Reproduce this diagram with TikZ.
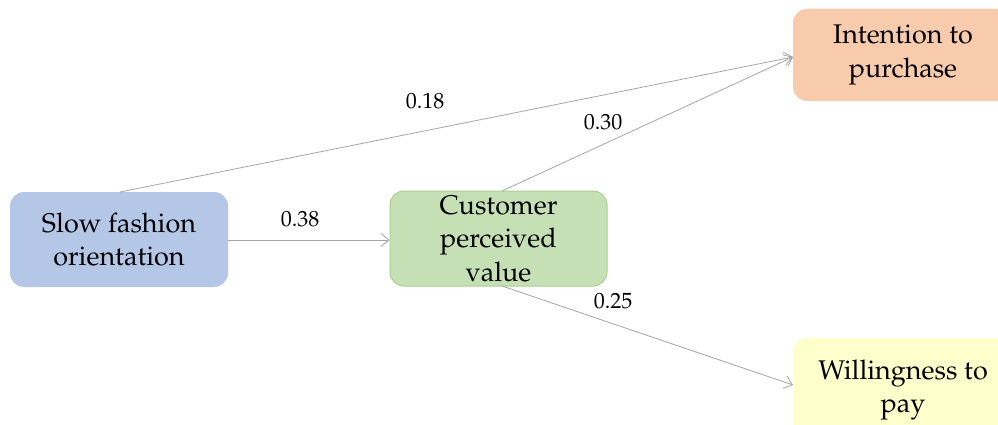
\documentclass[tikz,border=0pt]{standalone}
\usepackage[T1]{fontenc}
\usepackage{mathpazo}
\usetikzlibrary{arrows.meta}
\definecolor{bluefill}{HTML}{B4C7E7}
\definecolor{greenfill}{HTML}{C5E0B4}
\definecolor{greenline}{HTML}{A9D18E}
\definecolor{orangefill}{HTML}{F8CBAD}
\definecolor{yellowfill}{HTML}{FFFFCC}
\definecolor{arrowgray}{HTML}{A6A6A6}
\tikzset{
  boxnode/.style={rounded corners=14pt, inner sep=0pt, align=center,
    font=\fontsize{27}{33.5}\selectfont},
  conn/.style={draw=arrowgray, line width=0.8pt, -{Straight Barb[length=8pt,width=13pt]}},
  wlabel/.style={font=\fontsize{22}{24}\selectfont}
}
\begin{document}
\begin{tikzpicture}[x=1pt,y=-1pt]
\useasboundingbox (0,0) rectangle (998,425);
\clip (0,0) rectangle (998,425);
\fill[white] (0,0) rectangle (998,425);
% boxes
\node[boxnode, fill=bluefill, minimum width=218pt, minimum height=95pt] (sfo) at (119,239.5) {Slow fashion\\orientation};
\node[boxnode, fill=greenfill, draw=greenline, line width=1pt, minimum width=217pt, minimum height=95pt] (cpv) at (498.5,238.5) {Customer\\perceived\\value};
\node[boxnode, fill=orangefill, minimum width=220pt, minimum height=92pt] (itp) at (903,55) {Intention to\\purchase};
\node[boxnode, fill=yellowfill, minimum width=220pt, minimum height=104pt] (wtp) at (903,390) {Willingness to\\pay};
% anchors
\coordinate (sfotop) at (120,192);
\coordinate (cpvtop) at (502,191);
\coordinate (cpvbot) at (502,286);
\coordinate (itpin) at (793,57);
\coordinate (wtpin) at (793,385);
% connectors
\draw[conn] (sfotop) -- (itpin);
\draw[conn] (cpvtop) -- (itpin);
\draw[conn] (sfo.east |- 0,240) -- (cpv.west |- 0,240);
\draw[conn] (cpvbot) -- (wtpin);
% labels
\node[wlabel] (l18) at (425,101) {0.18};
\node[wlabel] (l30) at (603,122) {0.30};
\node[wlabel] (l38) at (300,219) {0.38};
\node[wlabel] (l25) at (613,301) {0.25};
\end{tikzpicture}
\end{document}
